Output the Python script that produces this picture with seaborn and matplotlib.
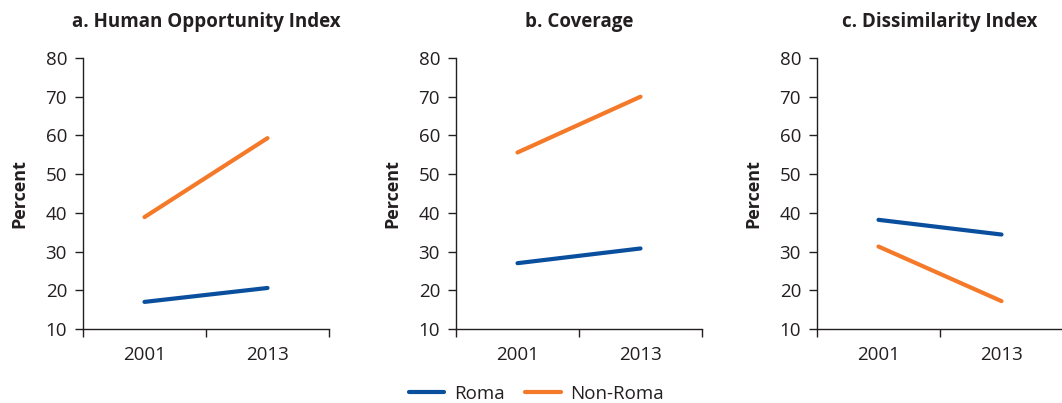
import matplotlib
matplotlib.use("Agg")
import matplotlib.pyplot as plt
import seaborn as sns
import pandas as pd
from matplotlib.ticker import FixedLocator

years = ["2001", "2013"]
groups = ["Roma", "Non-Roma"]
panel_titles = ["a. Human Opportunity Index", "b. Coverage", "c. Dissimilarity Index"]
hoi_roma = [17.0, 20.6]
hoi_nonroma = [38.9, 59.3]
cov_roma = [27.0, 30.8]
cov_nonroma = [55.6, 70.0]
dis_roma = [38.2, 34.4]
dis_nonroma = [31.3, 17.2]

panels = [(hoi_roma, hoi_nonroma), (cov_roma, cov_nonroma), (dis_roma, dis_nonroma)]

sns.set_style("white")
plt.rcParams["font.family"] = ["Open Sans", "DejaVu Sans"]

colors = {"Roma": "#0a4f9e", "Non-Roma": "#f47a2a"}
dark = "#231f20"

fig = plt.figure(figsize=(10.62, 4.03), dpi=100)
lefts = [83 / 1062, 456 / 1062, 817 / 1062]
w = 246 / 1062
b = 1 - 329 / 403
h = (329 - 58) / 403

for i, (title, (r, nr)) in enumerate(zip(panel_titles, panels)):
    ax = fig.add_axes([lefts[i], b, w, h])
    df = pd.DataFrame({
        "Year": years * 2,
        "Value": list(r) + list(nr),
        "Group": ["Roma"] * 2 + ["Non-Roma"] * 2,
    })
    sns.lineplot(data=df, x="Year", y="Value", hue="Group", hue_order=groups,
                 palette=colors, linewidth=3, ax=ax, legend=(i == 1), sort=False)
    ax.set_xlim(-0.5, 1.5)
    ax.set_ylim(10, 80)
    ax.set_yticks(range(10, 81, 10))
    ax.set_xticks([0, 1])
    ax.set_xticklabels(years)
    ax.xaxis.set_minor_locator(FixedLocator([-0.5, 0.5, 1.5]))
    ax.tick_params(axis="x", which="major", length=0, pad=12, labelsize=13.5, colors=dark)
    ax.tick_params(axis="x", which="minor", length=6, width=1, color=dark, bottom=True)
    ax.tick_params(axis="y", which="major", length=6, width=1, color=dark, left=True,
                   labelsize=13.5, labelcolor=dark, pad=5.5)
    for s in ["top", "right"]:
        ax.spines[s].set_visible(False)
    for s in ["left", "bottom"]:
        ax.spines[s].set_color(dark)
        ax.spines[s].set_linewidth(1)
    ax.set_xlabel("")
    ax.set_ylabel("Percent", fontsize=13, fontweight="bold", color=dark, labelpad=12)
    ax.set_title(title, fontsize=13.5, fontweight="bold", color=dark, pad=22)
    if i == 1:
        handles, labels = ax.get_legend_handles_labels()
        ax.get_legend().remove()
        fig.legend(handles, labels, loc="center", bbox_to_anchor=(0.505, 1 - 394 / 403),
                   ncol=2, frameon=False, fontsize=13.5, handlelength=1.9,
                   columnspacing=1.1, handletextpad=0.5, labelcolor=dark)

fig.savefig("out.png", dpi=100)
